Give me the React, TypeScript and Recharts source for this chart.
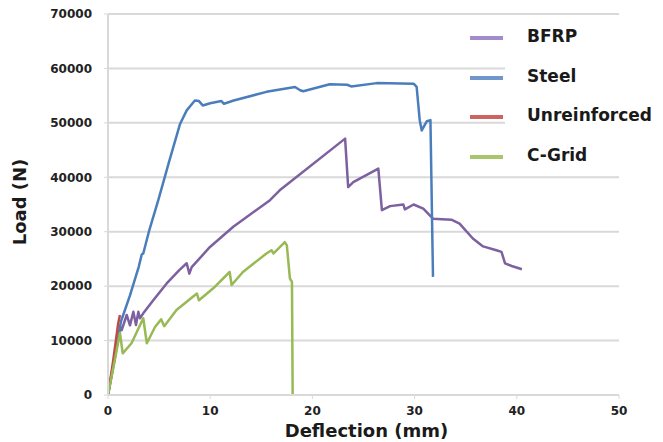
import React from 'react';
import { LineChart, Line, XAxis, YAxis, CartesianGrid, Label } from 'recharts';

// load-deflection readings, [deflection mm, load N]
const bfrp: [number, number][] = [
  [0, 0], [0.6, 6000], [1.2, 12500], [1.34, 11900], [1.83, 14700], [2.15, 12800], [2.48, 15300],
  [2.74, 12850], [2.97, 15300], [3.13, 14100], [3.45, 15000], [4.43, 17400], [5.74, 20500],
  [7.0, 23000], [7.7, 24200], [7.96, 22300], [8.19, 23500], [9.98, 27200], [12.26, 30900],
  [15.85, 35800], [16.8, 37600], [23.2, 47100], [23.5, 38200], [24.0, 39100], [26.45, 41600],
  [26.8, 33950], [27.6, 34700], [28.9, 35000], [29.05, 34100], [29.9, 35000], [30.85, 34250],
  [31.8, 32400], [33.6, 32200], [34.4, 31500], [35.7, 28750], [36.7, 27300], [38.0, 26600],
  [38.5, 26300], [38.85, 24200], [39.5, 23700], [40.5, 23100],
];

const steel: [number, number][] = [
  [0, 0], [0.6, 6500], [1.27, 13500], [2.15, 18300], [3.0, 23500], [3.3, 25800], [3.45, 26000],
  [4.0, 30000], [4.92, 35800], [6.0, 43000], [7.05, 49800], [7.7, 52300], [8.5, 54100],
  [8.9, 54000], [9.27, 53200], [10.0, 53600], [11.1, 54000], [11.35, 53500], [12.3, 54100],
  [15.5, 55700], [18.3, 56600], [18.8, 56000], [19.1, 55800], [21.7, 57100], [23.4, 57000],
  [23.8, 56700], [26.3, 57300], [29.9, 57200], [30.2, 56600], [30.5, 50500], [30.7, 48600],
  [31.2, 50300], [31.55, 50500], [31.8, 21700],
];

const unreinforced: [number, number][] = [
  [0, 0], [0.5, 6200], [1.0, 13200], [1.17, 14700],
];

const cgrid: [number, number][] = [
  [0, 0], [0.6, 5800], [1.17, 11400], [1.44, 7650], [2.3, 9500], [3.45, 14100], [3.8, 9500],
  [4.6, 12500], [5.2, 13900], [5.5, 12650], [6.7, 15600], [8.7, 18650], [8.9, 17400],
  [10.3, 19600], [11.9, 22600], [12.1, 20200], [13.2, 22600], [15.5, 26000], [16.0, 26600],
  [16.2, 26000], [17.3, 28100], [17.5, 27500], [17.8, 21400], [18.0, 20800], [18.07, 0],
];

const xTicks = [0, 10, 20, 30, 40, 50];
const yTicks = [0, 10000, 20000, 30000, 40000, 50000, 60000, 70000];

const series = [
  { name: 'BFRP', color: '#7d60a0', legendColor: '#a28ccb', points: bfrp },
  { name: 'Steel', color: '#4a7ebb', legendColor: '#6f97cc', points: steel },
  { name: 'Unreinforced', color: '#be4b48', legendColor: '#cc6461', points: unreinforced },
  { name: 'C-Grid', color: '#98b954', legendColor: '#a9c66f', points: cgrid },
];

const font = '"DejaVu Sans", sans-serif';
const W = 663;
const H = 442;
const plotLeft = 108;
const plotRight = 619;
const plotTop = 14;
const plotBottom = 395;

export default function App() {
  return (
    <div style={{ position: 'absolute', left: 0, top: 0, width: W, height: H, background: '#fff' }}>
      <LineChart
        width={W}
        height={H}
        margin={{ top: plotTop, right: W - plotRight, left: plotLeft - 60, bottom: 0 }}
      >
        <CartesianGrid vertical={false} stroke="#d9d9d9" strokeWidth={2} />
        <XAxis
          type="number"
          dataKey="x"
          domain={[0, 50]}
          ticks={xTicks}
          height={H - plotBottom}
          axisLine={{ stroke: '#d9d9d9', strokeWidth: 2 }}
          tickLine={{ stroke: '#d9d9d9' }}
          tickSize={4}
          tickMargin={7}
          tick={{ fill: '#222', fontSize: 12, fontWeight: 700, fontFamily: font }}
          allowDataOverflow
        >
          <Label
            content={() => (
              <text
                x={(plotLeft + plotRight) / 2 + 3}
                y={430}
                textAnchor="middle"
                dominantBaseline="central"
                fill="#1a1a1a"
                fontSize={18}
                fontWeight={700}
                fontFamily={font}
              >
                Deflection (mm)
              </text>
            )}
          />
        </XAxis>
        <YAxis
          type="number"
          dataKey="y"
          domain={[0, 70000]}
          ticks={yTicks}
          width={60}
          axisLine={{ stroke: '#d9d9d9', strokeWidth: 2 }}
          tickLine={{ stroke: '#d9d9d9' }}
          tickSize={4}
          tickMargin={12}
          tick={{ fill: '#222', fontSize: 12, fontWeight: 700, fontFamily: font }}
        >
          <Label
            content={() => (
              <text
                x={19}
                y={202}
                transform="rotate(-90 19 202)"
                textAnchor="middle"
                dominantBaseline="central"
                fill="#1a1a1a"
                fontSize={18}
                fontWeight={700}
                fontFamily={font}
              >
                Load (N)
              </text>
            )}
          />
        </YAxis>
        {series.map((s) => (
          <Line
            key={s.name}
            data={s.points.map(([x, y]) => ({ x, y }))}
            dataKey="y"
            name={s.name}
            type="linear"
            stroke={s.color}
            strokeWidth={2.5}
            strokeLinejoin="round"
            dot={false}
            activeDot={false}
            isAnimationActive={false}
          />
        ))}
      </LineChart>
      <div
        style={{
          position: 'absolute',
          left: 505,
          top: 20,
          width: 158,
          height: 152,
          background: '#fff',
          fontFamily: font,
        }}
      >
        {series.map((s, i) => (
          <div key={s.name} style={{ position: 'absolute', left: 0, top: 7 + i * 39.6, height: 20, width: 158 }}>
            <div
              style={{
                position: 'absolute',
                left: -35,
                top: 9,
                width: 33,
                height: 4,
                background: s.legendColor,
              }}
            />
            <span
              style={{
                position: 'absolute',
                left: 22,
                top: -1,
                fontSize: 17,
                fontWeight: 700,
                color: '#1a1a1a',
                whiteSpace: 'nowrap',
              }}
            >
              {s.name}
            </span>
          </div>
        ))}
      </div>
    </div>
  );
}
